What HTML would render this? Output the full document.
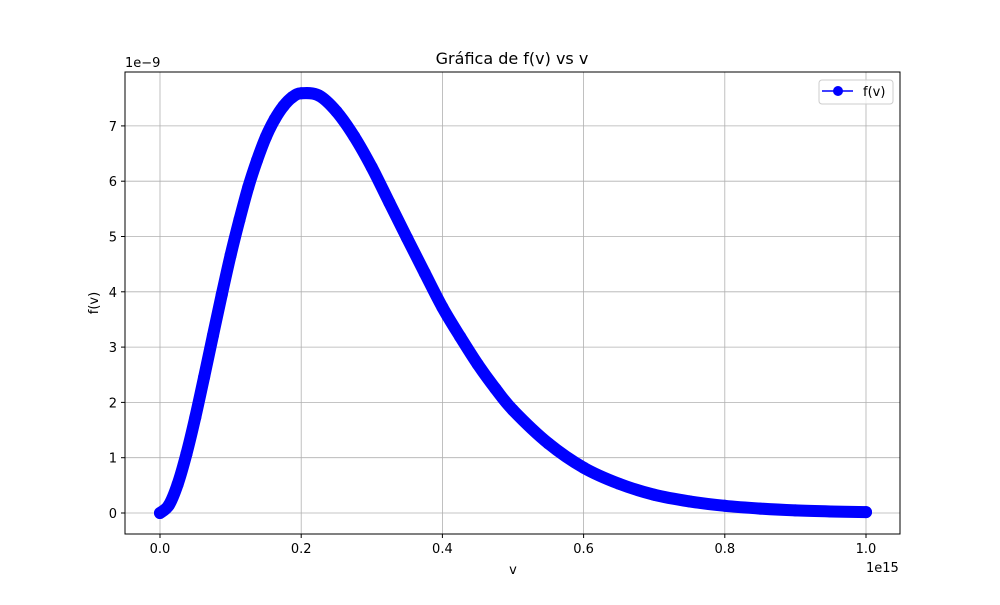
<!DOCTYPE html>
<html><head><meta charset="utf-8"><style>
html,body{margin:0;padding:0;background:#fff;}
svg text{font-family:"DejaVu Sans","Liberation Sans",sans-serif;fill:#000;}
</style></head><body>
<svg id="chart" width="1000" height="600" xmlns="http://www.w3.org/2000/svg">
<rect width="1000" height="600" fill="#fff"/>
<text x="512" y="64" font-size="16" text-anchor="middle">Gráfica de f(v) vs v</text>
<g id="grid"></g>
<g id="ticks"></g>
<g id="series"></g>
<rect x="125" y="72" width="775" height="462" fill="none" stroke="#000" stroke-width="1"/>
<text x="125" y="67" font-size="13">1e−9</text>
<text x="866" y="572" font-size="13">1e15</text>
<text x="513" y="574" font-size="13" text-anchor="middle">v</text>
<text x="98" y="303" font-size="13" text-anchor="middle" transform="rotate(-90 98 303)">f(v)</text>
<g>
<rect x="819" y="80" width="74" height="24" rx="3" fill="#fff" fill-opacity="0.8" stroke="#ccc"/>
<line x1="822" y1="91" x2="853" y2="91" stroke="#00f" stroke-width="1.5"/>
<circle cx="838" cy="91" r="5" fill="#00f"/>
<text x="863" y="96" font-size="13">f(v)</text>
</g>
</svg>
<script>
const vVals=[0,0.0125,0.025,0.0375,0.05,0.0625,0.075,0.0875,0.1,0.1125,0.125,0.1375,0.15,0.1625,0.175,0.1875,0.2,0.225,0.25,0.275,0.3,0.325,0.35,0.375,0.4,0.425,0.45,0.475,0.5,0.55,0.6,0.65,0.7,0.75,0.8,0.85,0.9,0.95,1.0];
const fVals=[0,0.14,0.52,1.07,1.73,2.46,3.21,3.95,4.66,5.30,5.89,6.38,6.80,7.12,7.36,7.52,7.59,7.55,7.26,6.81,6.25,5.61,4.97,4.34,3.72,3.19,2.69,2.25,1.86,1.26,0.82,0.53,0.33,0.21,0.13,0.08,0.047,0.028,0.016];
const xTicks=[0,0.2,0.4,0.6,0.8,1.0];
const xTickLabels=["0.0","0.2","0.4","0.6","0.8","1.0"];
const yTicks=[0,1,2,3,4,5,6,7];
const yTickLabels=["0","1","2","3","4","5","6","7"];
const NS="http://www.w3.org/2000/svg";
const X=v=>160+v*706;
const Y=f=>513-f*55.3;
function mk(tag,attrs,parent){const e=document.createElementNS(NS,tag);for(const k in attrs)e.setAttribute(k,attrs[k]);parent.appendChild(e);return e;}
const grid=document.getElementById('grid'),ticks=document.getElementById('ticks'),series=document.getElementById('series');
xTicks.forEach((t,i)=>{const x=X(t);
 const g=mk('line',{x1:x,x2:x,y1:72,y2:534,stroke:'#b0b0b0','stroke-width':0.8},grid);
 
 
 const tk=mk('line',{x1:x,x2:x,y1:534,y2:538,stroke:'#000'},ticks);
 
 
 const tl=mk('text',{x:x,y:553,'font-size':13,'text-anchor':'middle'},ticks);tl.textContent=xTickLabels[i];
 
 
});
yTicks.forEach((t,i)=>{const y=Y(t);
 const g=mk('line',{x1:125,x2:900,y1:y,y2:y,stroke:'#b0b0b0','stroke-width':0.8},grid);
 
 
 const tk=mk('line',{x1:121,x2:125,y1:y,y2:y,stroke:'#000'},ticks);
 
 
 const tl=mk('text',{x:117,y:y+5,'font-size':13,'text-anchor':'end'},ticks);tl.textContent=yTickLabels[i];
 
 
});
const P=vVals.map((v,i)=>[X(v),Y(fVals[i])]);
let d='M'+P[0][0]+','+P[0][1];
for(let i=0;i<P.length-1;i++){
 const p0=P[Math.max(0,i-1)],p1=P[i],p2=P[i+1],p3=P[Math.min(P.length-1,i+2)];
 const c1=[p1[0]+(p2[0]-p0[0])/6,p1[1]+(p2[1]-p0[1])/6];
 const c2=[p2[0]-(p3[0]-p1[0])/6,p2[1]-(p3[1]-p1[1])/6];
 d+=' C'+c1[0]+','+c1[1]+' '+c2[0]+','+c2[1]+' '+p2[0]+','+p2[1];
}
const band=mk('path',{d:d,fill:'none',stroke:'#00f','stroke-width':12,'stroke-linejoin':'round','stroke-linecap':'round'},series);


vVals.forEach((v,i)=>{const c=mk('circle',{cx:X(v),cy:Y(fVals[i]),r:6,fill:'#00f'},series);
 
 
});
</script>
</body></html>
